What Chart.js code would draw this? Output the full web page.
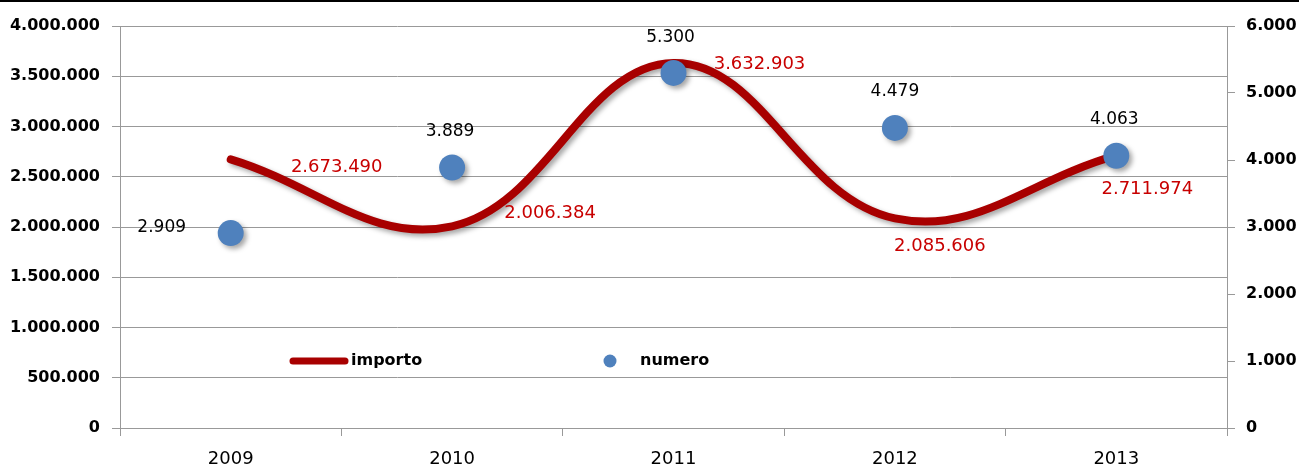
<!DOCTYPE html>
<html>
<head>
<meta charset="utf-8">
<script src="https://cdn.jsdelivr.net/npm/chart.js@4/dist/chart.umd.min.js"></script>
<style>
  html, body { margin: 0; padding: 0; background: #fff; }
  #wrap { width: 1299px; height: 464px; position: relative; }
</style>
</head>
<body>
<div id="wrap"><canvas id="chart"></canvas></div>
<script>
// data
var years = ['2009', '2010', '2011', '2012', '2013'];
var importo = [2673490, 2006384, 3632903, 2085606, 2711974];
var numero = [2909, 3889, 5300, 4479, 4063];
var leftTicks = [0, 500000, 1000000, 1500000, 2000000, 2500000, 3000000, 3500000, 4000000];
var rightTicks = [0, 1000, 2000, 3000, 4000, 5000, 6000];

var FONT = '"DejaVu Sans", Verdana, sans-serif';
var RED_LINE = '#a80000';
var RED_TEXT = '#c80000';
var BLUE = '#4f81bd';
var GRID = '#999999';

function fmt(v) {
  return String(v).replace(/\B(?=(\d{3})+(?!\d))/g, '.');
}

// drop shadow on line and dots
var shadowPlugin = {
  id: 'shadow',
  beforeDatasetDraw: function (chart) {
    var c = chart.ctx;
    c.save();
    c.shadowColor = 'rgba(0,0,0,0.35)';
    c.shadowBlur = 5;
    c.shadowOffsetX = 3;
    c.shadowOffsetY = 3;
  },
  afterDatasetDraw: function (chart) {
    chart.ctx.restore();
  }
};

// value labels, offsets relative to each point
var labelPlugin = {
  id: 'valueLabels',
  afterDatasetsDraw: function (chart, args, opts) {
    var c = chart.ctx;
    c.save();
    c.textAlign = 'center';
    c.textBaseline = 'middle';
    chart.data.datasets.forEach(function (ds, i) {
      var cfg = opts.sets[ds.label];
      if (!cfg) return;
      var meta = chart.getDatasetMeta(i);
      c.font = cfg.font;
      c.fillStyle = cfg.color;
      meta.data.forEach(function (pt, j) {
        var off = cfg.offsets[j];
        c.fillText(fmt(ds.data[j]), pt.x + off[0], pt.y + off[1]);
      });
    });
    c.restore();
  }
};

// legend sits inside the plot, plus the black rule at the top
var extrasPlugin = {
  id: 'extras',
  afterDraw: function (chart) {
    var c = chart.ctx;
    c.save();
    c.fillStyle = '#000';
    c.fillRect(0, 0, chart.width, 2);

    var y = 361;
    c.strokeStyle = RED_LINE;
    c.lineWidth = 7;
    c.lineCap = 'round';
    c.beginPath();
    c.moveTo(293, y);
    c.lineTo(345, y);
    c.stroke();

    c.fillStyle = BLUE;
    c.beginPath();
    c.arc(610, y, 6.5, 0, Math.PI * 2);
    c.fill();

    c.fillStyle = '#000';
    c.font = 'bold 16px ' + FONT;
    c.textAlign = 'left';
    c.textBaseline = 'middle';
    c.fillText('importo', 351, y);
    c.fillText('numero', 640, y);
    c.restore();
  }
};

new Chart(document.getElementById('chart'), {
  type: 'line',
  data: {
    labels: years,
    datasets: [{
      label: 'numero',
      data: numero,
      yAxisID: 'y1',
      showLine: false,
      pointRadius: 13,
      pointHoverRadius: 13,
      pointBackgroundColor: BLUE,
      pointBorderWidth: 0,
      order: 0
    }, {
      label: 'importo',
      data: importo,
      yAxisID: 'y',
      borderColor: RED_LINE,
      borderWidth: 8,
      borderCapStyle: 'round',
      tension: 0.4,
      pointRadius: 0,
      fill: false,
      order: 1
    }]
  },
  options: {
    responsive: true,
    maintainAspectRatio: false,
    animation: false,
    events: [],
    layout: { padding: { top: 26, left: 0, right: 0, bottom: 0 } },
    plugins: {
      legend: { display: false },
      tooltip: { enabled: false },
      valueLabels: {
        sets: {
          importo: {
            font: '18px ' + FONT,
            color: RED_TEXT,
            offsets: [[106, 8], [98, -13], [86, 1], [45, 28], [31, 34]]
          },
          numero: {
            font: '17px ' + FONT,
            color: '#000',
            offsets: [[-69, -6], [-2, -36], [-3, -35], [0, -36], [-2, -36]]
          }
        }
      }
    },
    scales: {
      x: {
        offset: true,
        grid: { offset: true, drawOnChartArea: false, color: GRID, tickLength: 8 },
        border: { color: GRID },
        ticks: { color: '#000', font: { family: FONT, size: 18 }, padding: 13, maxRotation: 0 },
        afterFit: function (s) { s.height = 36; }
      },
      y: {
        position: 'left',
        min: leftTicks[0],
        max: leftTicks[leftTicks.length - 1],
        afterBuildTicks: function (s) { s.ticks = leftTicks.map(function (v) { return { value: v }; }); },
        grid: { color: GRID, tickLength: 8 },
        border: { color: GRID },
        ticks: { color: '#000', font: { family: FONT, size: 16, weight: 'bold' }, padding: 12,
          callback: function (v) { return fmt(v); } },
        afterFit: function (s) { s.width = 120; }
      },
      y1: {
        position: 'right',
        min: rightTicks[0],
        max: rightTicks[rightTicks.length - 1],
        afterBuildTicks: function (s) { s.ticks = rightTicks.map(function (v) { return { value: v }; }); },
        grid: { drawOnChartArea: false, color: GRID, tickLength: 8 },
        border: { color: GRID },
        ticks: { color: '#000', font: { family: FONT, size: 16, weight: 'bold' }, padding: 11,
          callback: function (v) { return fmt(v); } },
        afterFit: function (s) { s.width = 72; }
      }
    }
  },
  plugins: [shadowPlugin, labelPlugin, extrasPlugin]
});
</script>
</body>
</html>
